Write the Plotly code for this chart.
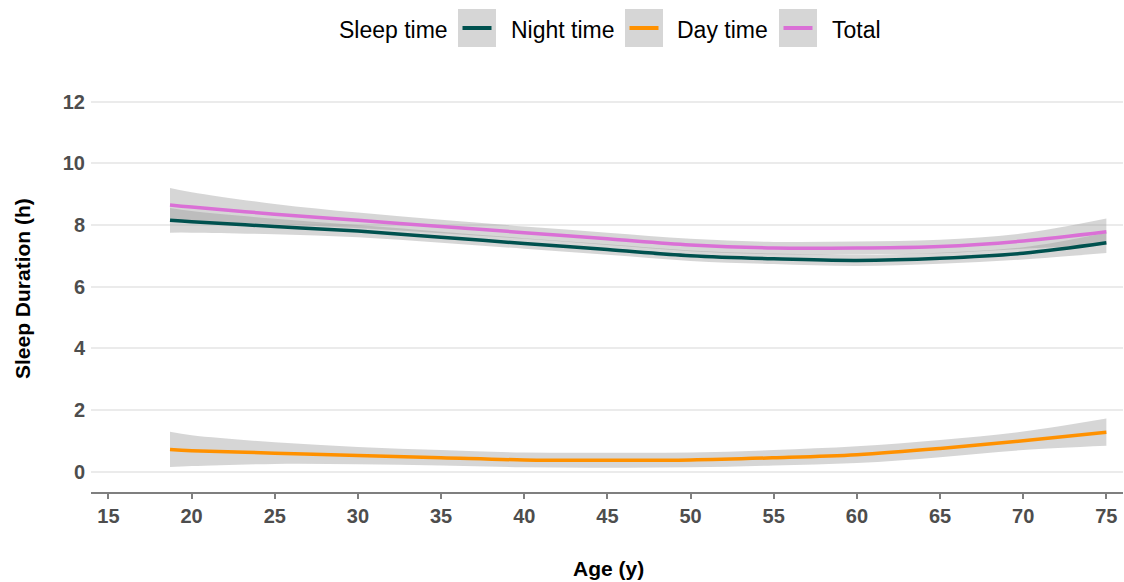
import plotly.graph_objects as go

ages = [18.7, 20, 25, 30, 35, 40, 45, 50, 55, 60, 65, 70, 75]

night = [8.15, 8.10, 7.95, 7.80, 7.60, 7.40, 7.20, 7.00, 6.90, 6.85, 6.92, 7.08, 7.42]
night_se = [0.40, 0.35, 0.25, 0.20, 0.18, 0.17, 0.17, 0.17, 0.17, 0.18, 0.18, 0.20, 0.33]

day = [0.72, 0.68, 0.60, 0.52, 0.45, 0.38, 0.37, 0.38, 0.45, 0.55, 0.75, 1.00, 1.28]
day_se = [0.57, 0.50, 0.35, 0.28, 0.25, 0.24, 0.24, 0.24, 0.25, 0.27, 0.28, 0.30, 0.44]

total = [8.65, 8.58, 8.35, 8.15, 7.95, 7.75, 7.55, 7.35, 7.25, 7.25, 7.30, 7.48, 7.78]
total_se = [0.55, 0.48, 0.33, 0.25, 0.22, 0.20, 0.20, 0.20, 0.20, 0.21, 0.22, 0.25, 0.43]

names = ["Night time", "Day time", "Total"]
colors = ["#00514F", "#FF9100", "#DA70D6"]
series = [night, day, total]
ses = [night_se, day_se, total_se]

x_ticks = [15, 20, 25, 30, 35, 40, 45, 50, 55, 60, 65, 70, 75]
y_ticks = [0, 2, 4, 6, 8, 10, 12]

W, H = 1124, 582
ML, MR, MT, MB = 91, 1, 80, 90
PW, PH = W - ML - MR, H - MT - MB

def px(x):
    return (x - ML) / PW

def py(y):
    return (H - MB - y) / PH

FONT = "Liberation Sans, Arial"

fig = go.Figure()
band = "rgba(153,153,153,0.4)"
for vals, se in zip(series, ses):
    up = [v + s for v, s in zip(vals, se)]
    lo = [v - s for v, s in zip(vals, se)]
    fig.add_trace(go.Scatter(x=ages, y=up, mode="lines", line=dict(width=0, shape="spline"),
                             showlegend=False, hoverinfo="skip"))
    fig.add_trace(go.Scatter(x=ages, y=lo, mode="lines", line=dict(width=0, shape="spline"),
                             fill="tonexty", fillcolor=band, showlegend=False, hoverinfo="skip"))
for name, vals, col in zip(names, series, colors):
    fig.add_trace(go.Scatter(x=ages, y=vals, mode="lines", name=name,
                             line=dict(color=col, width=3.5, shape="spline"), showlegend=False))

# manual legend (ggplot style keys)
shapes = []
annotations = []
annotations.append(dict(text="Sleep time", x=px(337), y=py(29.5), xref="paper", yref="paper",
                        xanchor="left", yanchor="middle", showarrow=False,
                        font=dict(size=23, color="black", family=FONT)))
key_x = [458, 625, 779]
label_x = [509, 675, 830]
for kx, lx, name, col in zip(key_x, label_x, names, colors):
    shapes.append(dict(type="rect", xref="paper", yref="paper", x0=px(kx), x1=px(kx + 38),
                       y0=py(47), y1=py(9), fillcolor="#D6D6D6", line=dict(width=0), layer="above"))
    shapes.append(dict(type="line", xref="paper", yref="paper", x0=px(kx + 4.5), x1=px(kx + 33.5),
                       y0=py(28), y1=py(28), line=dict(color=col, width=4), layer="above"))
    annotations.append(dict(text=name, x=px(lx), y=py(29.5), xref="paper", yref="paper",
                            xanchor="left", yanchor="middle", showarrow=False,
                            font=dict(size=23, color="black", family=FONT)))

annotations.append(dict(text="<b>Age (y)</b>", x=px(608.5), y=py(568), xref="paper", yref="paper",
                        xanchor="center", yanchor="middle", showarrow=False,
                        font=dict(size=21, color="black", family=FONT)))
annotations.append(dict(text="<b>Sleep Duration (h)</b>", x=px(22), y=py(289), xref="paper", yref="paper",
                        xanchor="center", yanchor="middle", showarrow=False, textangle=-90,
                        font=dict(size=21, color="black", family=FONT)))

fig.update_layout(
    width=W, height=H,
    margin=dict(l=ML, r=MR, t=MT, b=MB),
    paper_bgcolor="white", plot_bgcolor="white",
    shapes=shapes, annotations=annotations,
    font=dict(family=FONT),
    xaxis=dict(range=[13.95, 76.0], tickvals=x_ticks, ticktext=[f"<b>{t}</b>" for t in x_ticks],
               showgrid=False, zeroline=False, showline=True, linecolor="#7F7F7F", linewidth=1.5,
               ticks="outside", ticklen=5, tickwidth=1.5, tickcolor="#7F7F7F",
               tickfont=dict(size=20, color="#4D4D4D")),
    yaxis=dict(range=[-0.66, 12.7], tickvals=y_ticks, ticktext=[f"<b>{t}</b>" for t in y_ticks],
               showgrid=True, gridcolor="#EBEBEB", gridwidth=1.5, zeroline=False, showline=False,
               ticks="", ticklabelstandoff=5, tickfont=dict(size=20, color="#4D4D4D")),
)

fig.write_html("out.html")
